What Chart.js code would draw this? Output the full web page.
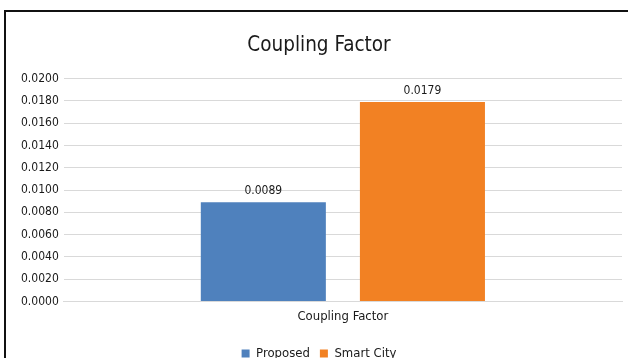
<!DOCTYPE html>
<html>
<head>
<meta charset="utf-8">
<script src="https://cdn.jsdelivr.net/npm/chart.js@4/dist/chart.umd.min.js"></script>
<style>
  html, body { margin: 0; padding: 0; background: #fff; overflow: hidden; }
  #frame { position: absolute; left: 4px; top: 10px; width: 640px; height: 400px; border: 2px solid #111; box-sizing: border-box; }
  #wrap { position: absolute; left: 0; top: 0; width: 628px; height: 377px; }
</style>
</head>
<body>
<div id="frame"></div>
<div id="wrap"><canvas id="c" width="628" height="377"></canvas></div>
<script>
// Chart content
const categories = ['Coupling Factor'];
const seriesNames = ['Proposed', 'Smart City'];
const proposedValues = [0.0089];
const smartCityValues = [0.0179];
const seriesColors = ['#4F81BD', '#F28123'];

const FONT = "'DejaVu Sans Condensed', 'DejaVu Sans', sans-serif";

// Writes each bar's value just above it
const valueLabels = {
  id: 'valueLabels',
  afterDatasetsDraw(chart) {
    const ctx = chart.ctx;
    ctx.save();
    ctx.font = '12px ' + FONT;
    ctx.fillStyle = '#1a1a1a';
    ctx.textAlign = 'center';
    ctx.textBaseline = 'alphabetic';
    chart.data.datasets.forEach((ds, i) => {
      chart.getDatasetMeta(i).data.forEach((bar, j) => {
        ctx.fillText(ds.data[j].toFixed(4), bar.x, bar.y - 8);
      });
    });
    ctx.restore();
  }
};

new Chart(document.getElementById('c'), {
  type: 'bar',
  data: {
    labels: categories,
    datasets: [
      { label: seriesNames[0], data: proposedValues, backgroundColor: seriesColors[0] },
      { label: seriesNames[1], data: smartCityValues, backgroundColor: seriesColors[1] }
    ]
  },
  options: {
    responsive: false,
    animation: false,
    devicePixelRatio: 1,
    layout: { padding: { left: 16, right: 6, top: 29, bottom: 7 } },
    datasets: { bar: { categoryPercentage: 0.57, barPercentage: 0.786 } },
    plugins: {
      title: {
        display: true,
        text: 'Coupling Factor',
        color: '#1a1a1a',
        font: { family: FONT, size: 20.5, weight: 'normal' },
        padding: { top: 4, bottom: 21 }
      },
      legend: {
        position: 'bottom',
        labels: {
          color: '#1a1a1a',
          font: { family: FONT, size: 13 },
          boxWidth: 8,
          boxHeight: 8,
          padding: 10
        }
      },
      tooltip: { enabled: false }
    },
    scales: {
      x: {
        grid: { display: false, drawTicks: false },
        border: { display: true, color: '#d9d9d9' },
        ticks: { color: '#1a1a1a', font: { family: FONT, size: 13 }, padding: 7 },
        // extra room between the category label and the legend
        afterFit(scale) { scale.height += 6; }
      },
      y: {
        min: 0,
        max: 0.02,
        ticks: {
          stepSize: 0.002,
          color: '#1a1a1a',
          font: { family: FONT, size: 12 },
          padding: 5,
          callback: v => v.toFixed(4)
        },
        grid: { color: '#d9d9d9', drawTicks: false },
        border: { display: false }
      }
    }
  },
  plugins: [valueLabels]
});
</script>
</body>
</html>
